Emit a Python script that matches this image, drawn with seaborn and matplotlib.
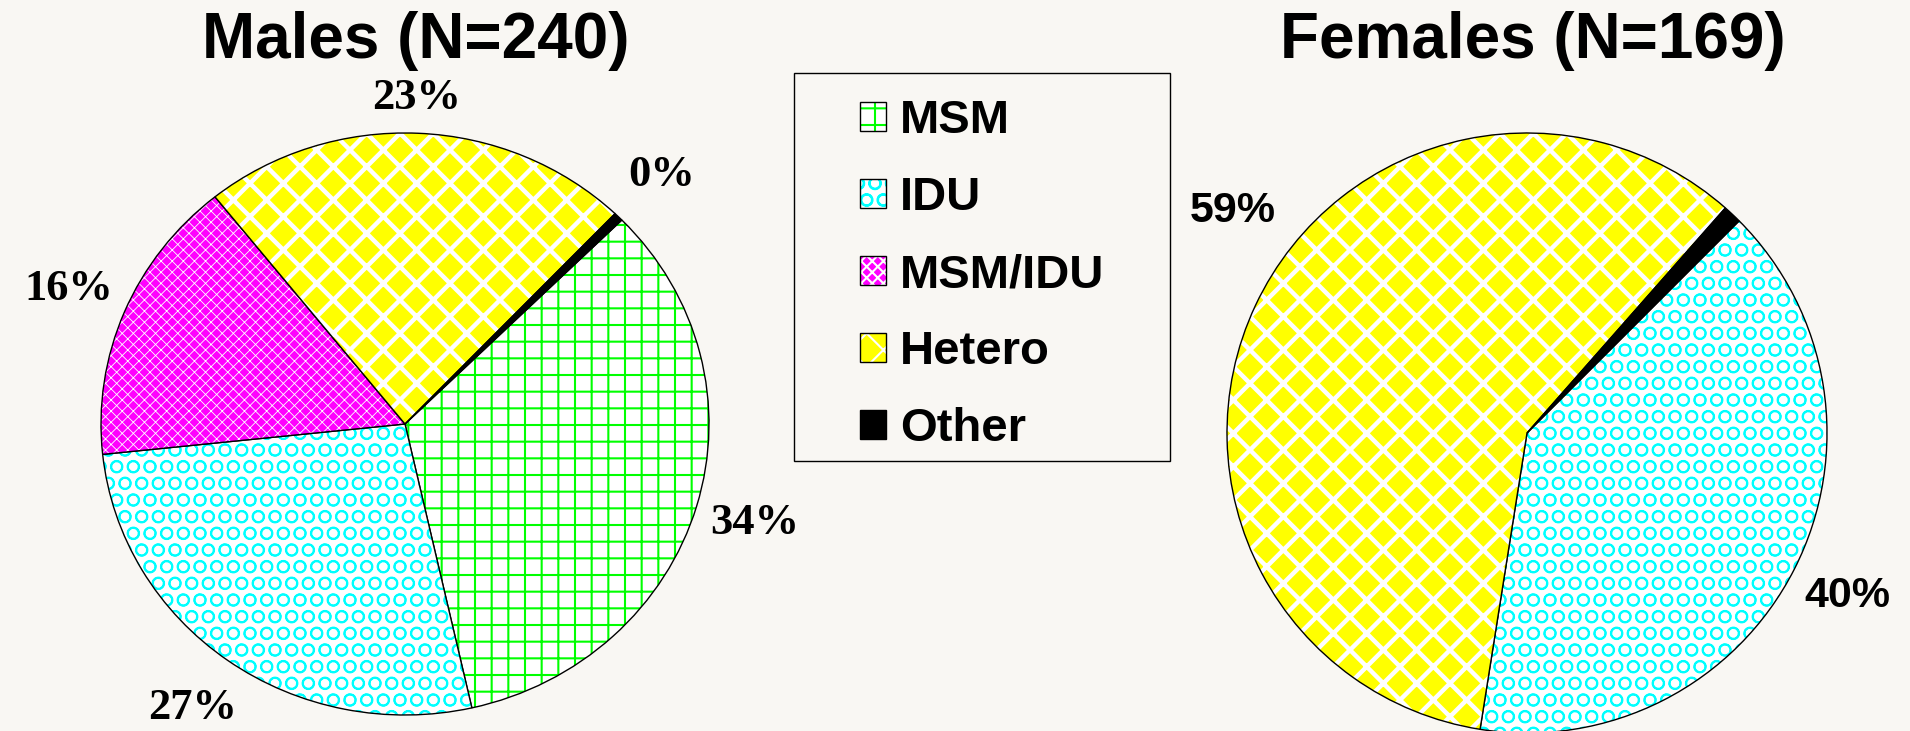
import numpy as np
import matplotlib
matplotlib.use('Agg')
import matplotlib.pyplot as plt
import matplotlib.colors as mcolors
from matplotlib.patches import Rectangle
import seaborn as sns

# --- data ---
categories = ['MSM', 'IDU', 'MSM/IDU', 'Hetero', 'Other']
male_pct = [34, 27, 16, 23, 0.5]
male_labels = ['34%', '27%', '16%', '23%', '0%']

female_cats = ['IDU', 'Hetero', 'Other']
female_pct = [40, 59, 1]
female_labels = ['40%', '59%', '']

male_title = 'Males (N=240)'
female_title = 'Females (N=169)'

# --- styles ---
fills = {'MSM': 'white', 'IDU': 'white', 'MSM/IDU': '#ff00ff',
         'Hetero': '#ffff00', 'Other': 'black'}
hatches = {'MSM': ('+', '#00ff00', 1.5),
           'IDU': ('O', '#00ffff', 1.3),
           'MSM/IDU': ('xxx', 'white', 0.6),
           'Hetero': ('x', 'white', 3.2)}

sns.set_theme(style='white')
plt.rcParams['font.family'] = ['Liberation Sans', 'DejaVu Sans']
plt.rcParams['text.color'] = 'black'
plt.rcParams['hatch.linewidth'] = 1.5

W, H = 1910, 731
fig = plt.figure(figsize=(W / 100, H / 100), dpi=100)
fig.patch.set_facecolor('#f9f7f3')


def style_hatch(w, cat):
    if cat not in hatches:
        return
    h, col, lw = hatches[cat]
    w.set_hatch(h)
    if hasattr(w, 'set_hatchcolor'):
        w.set_hatchcolor(col)
    else:
        w._hatch_color = mcolors.to_rgba(col)
    if hasattr(w, 'set_hatch_linewidth'):
        w.set_hatch_linewidth(lw)


def draw_pie(ax, cats, vals, labels, start, label_family, label_size):
    wedges, texts = ax.pie(vals, labels=labels, startangle=start, counterclock=False,
                           labeldistance=1.2, colors=[fills[c] for c in cats],
                           wedgeprops=dict(edgecolor='black', linewidth=1.0),
                           textprops=dict(fontsize=label_size, fontweight='bold',
                                          family=label_family, color='black'))
    for w, c in zip(wedges, cats):
        style_hatch(w, c)
    for t in texts:
        t.set_ha('center')
        t.set_va('center')
    ax.set_aspect('auto')
    ax.set_xlim(-1.35, 1.35)
    ax.set_ylim(-1.35, 1.35)
    return wedges, texts


def pie_axes(cx, cy, rx, ry):
    # cx, cy in pixels from top-left; axes spans +-1.35 data units
    w, h = 2.7 * rx, 2.7 * ry
    return fig.add_axes([(cx - w / 2) / W, (H - cy - h / 2) / H, w / W, h / H])


def polar(r, deg):
    a = np.deg2rad(deg)
    return r * np.cos(a), r * np.sin(a)


ax_m = pie_axes(405, 424, 304, 291)
wm, tm = draw_pie(ax_m, categories, male_pct, male_labels, 44.5,
                  ['Liberation Serif', 'DejaVu Serif'], 32)
# 23% sits a little closer to the rim, clear of the title
tm[3].set_position(polar(1.12, 88))

ax_f = pie_axes(1527, 433, 300, 300)
wf, tf = draw_pie(ax_f, female_cats, female_pct, female_labels, 45,
                  ['Liberation Sans', 'DejaVu Sans'], 31)
# the 59% label sits higher than the slice middle
tf[1].set_position(polar(1.23, 143))

# titles
fig.text(416 / W, 1 - 58 / H, male_title, ha='center', va='baseline',
         fontsize=46, fontweight='bold', color='black')
fig.text(1533 / W, 1 - 58 / H, female_title, ha='center', va='baseline',
         fontsize=46, fontweight='bold', color='black')

# legend with a plain square box
fig.add_artist(Rectangle((794 / W, 1 - 461 / H), 376 / W, 388 / H,
                         transform=fig.transFigure, fill=False,
                         edgecolor='black', linewidth=1.0))
leg = fig.legend(wm, categories, loc='upper left', bbox_to_anchor=(860 / W, 1 - 99 / H),
                 frameon=False, prop=dict(weight='bold', size=34),
                 handlelength=0.55, handleheight=0.55, handletextpad=0.3,
                 labelspacing=0.7, borderpad=0, borderaxespad=0)
for t in leg.get_texts():
    t.set_color('black')

fig.savefig('out.png', dpi=100, facecolor=fig.get_facecolor())
